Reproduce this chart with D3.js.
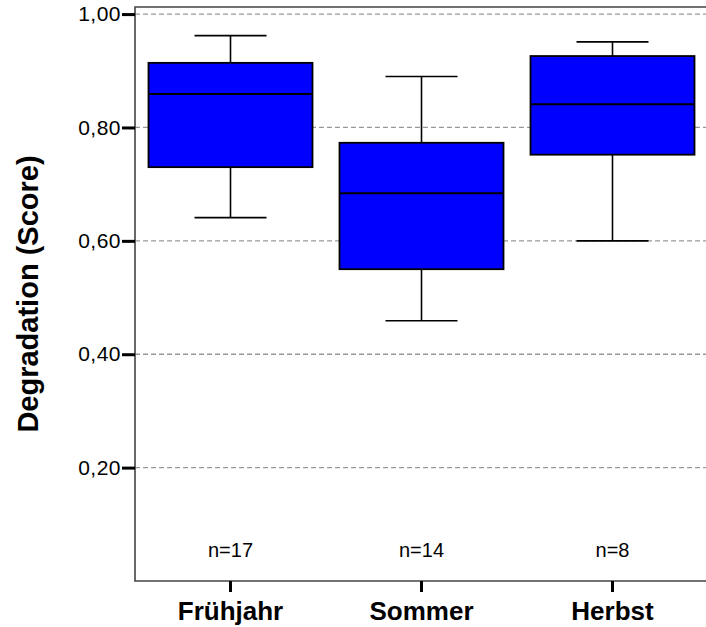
<!DOCTYPE html>
<html>
<head>
<meta charset="utf-8">
<script src="https://cdn.jsdelivr.net/npm/d3@7"></script>
<style>
  body { margin: 0; background: #fff; }
  svg { display: block; font-family: "Liberation Sans", Arial, sans-serif; }
</style>
</head>
<body>
<svg id="chart"></svg>
<script>
const width = 706, height = 627;

// data
const seasons = ["Frühjahr", "Sommer", "Herbst"];
const whiskerLow = [0.641, 0.459, 0.600];
const q1 = [0.730, 0.550, 0.752];
const median = [0.859, 0.684, 0.841];
const q3 = [0.914, 0.773, 0.926];
const whiskerHigh = [0.962, 0.890, 0.951];
const counts = [17, 14, 8];
const yTicks = [0.2, 0.4, 0.6, 0.8, 1.0];

const margin = {top: 7, left: 135, bottom: 46};

const svg = d3.select("#chart")
              .attr("width", width)
              .attr("height", height);

const x = d3.scaleBand()
            .domain(seasons)
            .range([margin.left, margin.left + 573])
            .padding(0);

const y = d3.scaleLinear()
            .domain([0, 1.0125])
            .range([height - margin.bottom, margin.top]);

const plotBottom = y(0), plotTop = y(1.0125);

// gridlines
svg.append("g")
   .selectAll("line")
   .data(yTicks)
   .enter()
   .append("line")
   .attr("x1", margin.left)
   .attr("x2", width)
   .attr("y1", d => y(d))
   .attr("y2", d => y(d))
   .attr("stroke", "#999")
   .attr("stroke-width", 1.3)
   .attr("stroke-dasharray", "5,3");

const boxW = 164, capW = 72;
const boxes = svg.append("g")
                 .selectAll("g")
                 .data(seasons)
                 .enter()
                 .append("g")
                 .attr("transform", d => `translate(${x(d) + x.bandwidth() / 2},0)`);

boxes.append("line")
     .attr("x1", 0).attr("x2", 0)
     .attr("y1", (d, i) => y(whiskerHigh[i]))
     .attr("y2", (d, i) => y(whiskerLow[i]))
     .attr("stroke", "#000")
     .attr("stroke-width", 1.6);

boxes.selectAll(".cap")
     .data((d, i) => [whiskerLow[i], whiskerHigh[i]])
     .enter()
     .append("line")
     .attr("class", "cap")
     .attr("x1", -capW / 2).attr("x2", capW / 2)
     .attr("y1", d => y(d)).attr("y2", d => y(d))
     .attr("stroke", "#000")
     .attr("stroke-width", 1.6);

boxes.append("rect")
     .attr("x", -boxW / 2)
     .attr("width", boxW)
     .attr("y", (d, i) => y(q3[i]))
     .attr("height", (d, i) => y(q1[i]) - y(q3[i]))
     .attr("fill", "#0000ff")
     .attr("stroke", "#000")
     .attr("stroke-width", 1.8);

boxes.append("line")
     .attr("x1", -boxW / 2).attr("x2", boxW / 2)
     .attr("y1", (d, i) => y(median[i]))
     .attr("y2", (d, i) => y(median[i]))
     .attr("stroke", "#000")
     .attr("stroke-width", 1.8);

boxes.append("text")
     .attr("y", 557)
     .attr("text-anchor", "middle")
     .attr("font-size", 20)
     .text((d, i) => "n=" + counts[i]);

// frame
svg.append("path")
   .attr("d", `M${width + 2},${plotTop}H${margin.left}V${plotBottom}H${width + 2}`)
   .attr("fill", "none")
   .attr("stroke", "#444")
   .attr("stroke-width", 1.6);

// y axis
const yAxis = svg.append("g")
                 .attr("transform", `translate(${margin.left},0)`)
                 .call(d3.axisLeft(y)
                         .tickValues(yTicks)
                         .tickSize(13)
                         .tickPadding(1)
                         .tickFormat(d => d3.format(".2f")(d).replace(".", ",")));
yAxis.select(".domain").remove();
yAxis.selectAll(".tick line").attr("stroke", "#000").attr("stroke-width", 3);
yAxis.selectAll(".tick text")
     .attr("font-size", 21)
     .attr("letter-spacing", "0.5px")
     .attr("font-family", "Liberation Sans, Arial, sans-serif")
     .attr("fill", "#000");

// x axis
const xAxis = svg.append("g")
                 .attr("transform", `translate(0,${plotBottom})`)
                 .call(d3.axisBottom(x).tickSize(11).tickPadding(3));
xAxis.select(".domain").remove();
xAxis.selectAll(".tick line").attr("stroke", "#000").attr("stroke-width", 3);
xAxis.selectAll(".tick text")
     .attr("font-size", 26)
     .attr("font-weight", "bold")
     .attr("dy", "0.95em")
     .attr("font-family", "Liberation Sans, Arial, sans-serif")
     .attr("fill", "#000");

svg.append("text")
   .attr("transform", `translate(38,${(plotTop + plotBottom) / 2}) rotate(-90)`)
   .attr("text-anchor", "middle")
   .attr("font-size", 29)
   .attr("font-weight", "bold")
   .text("Degradation (Score)");
</script>
</body>
</html>
